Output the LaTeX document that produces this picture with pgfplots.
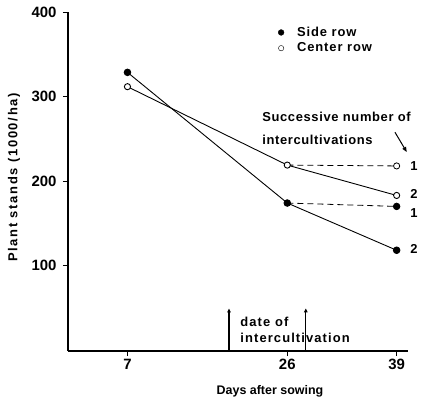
\documentclass[border=0pt]{standalone}
\usepackage{fontspec}
\setmainfont{Liberation Sans}
\newfontfamily\lsleg[LetterSpace=7]{Liberation Sans}
\newfontfamily\lsylab[LetterSpace=13]{Liberation Sans}
\newfontfamily\lsnote[LetterSpace=5]{Liberation Sans}
\newfontfamily\lsdate[LetterSpace=8.5]{Liberation Sans}
\usepackage{pgfplots}
\pgfplotsset{compat=1.18}
\usetikzlibrary{arrows.meta}

\begin{document}
\begin{tikzpicture}[font=\fontsize{13}{15}\selectfont\bfseries]
\begin{axis}[
  scale only axis, width=340bp, height=338.5bp,
  xmin=-0.07, xmax=40.35, ymin=-1.5, ymax=400,
  axis lines=left,
  axis line style={line width=1.6pt, -},
  xtick={7,26,39}, ytick={100,200,300,400},
  tick align=outside, major tick length=5bp,
  tick style={line width=1.2pt, black},
  /pgf/number format/assume math mode=true,
  ticklabel style={font=\fontsize{15}{17}\selectfont\bfseries},
  yticklabel style={xshift=-3bp},
  xlabel={Days after sowing},
  ylabel={\lsylab Plant stands (1000/ha)},
  xlabel style={at={(rel axis cs:0.594,0)}, anchor=center, yshift=-40bp,
    font=\fontsize{12.5}{14}\selectfont\bfseries},
  ylabel style={at={(rel axis cs:-0.159,0.5126)}, anchor=center},
  clip=false,
  legend style={at={(axis cs:24.9,383)}, anchor=north west, draw=none, fill=none,
    inner sep=0pt, row sep=5bp, column sep=13bp,
    nodes={inner sep=0pt, anchor=west},
    font=\fontsize{13}{15}\selectfont\bfseries\lsleg},
  legend cell align=left,
  legend image code/.code={\draw[#1] plot coordinates {(0bp,0bp)};},
]
% side row, then center row, both intercultivated once from day 26 on
\addplot[black, line width=0.8pt, dash pattern=on 6bp off 4bp, forget plot,
  mark=*, mark size=3.3pt, mark options={solid, fill=black}, mark indices={2}]
  coordinates {(26,174) (39,170)};
\addplot[black, line width=0.8pt, dash pattern=on 6bp off 4bp, forget plot,
  mark=*, mark size=3.1pt, mark options={solid, fill=white}, mark indices={2}]
  coordinates {(26,219) (39,218)};
% two intercultivations
\addplot[black, line width=0.9pt, mark=*, mark size=3.3pt,
  mark options={solid, fill=black}, forget plot]
  coordinates {(7,329) (26,174) (39,118)};
\addplot[black, line width=0.9pt, mark=*, mark size=3.1pt,
  mark options={solid, fill=white}, forget plot]
  coordinates {(7,312) (26,219) (39,183)};

\addlegendimage{only marks, mark=*, mark size=2.9pt, fill=black, black}
\addlegendentry{Side row}
\addlegendimage{only marks, mark=*, mark size=2.7pt, fill=white, draw=black}
\addlegendentry{Center row}

% intercultivation dates
\draw[line width=1.3pt, -{Triangle[length=4bp,width=3.5bp]}]
  (axis cs:19.07,-1.5) -- (axis cs:19.07,49);
\draw[line width=1.3pt, -{Triangle[length=4bp,width=3.5bp]}]
  (axis cs:28.2,-1.5) -- (axis cs:28.2,49);
\node[anchor=west, inner sep=0pt, font=\fontsize{13}{15}\selectfont\bfseries\lsdate]
  at (axis cs:20.4,33) {date of};
\node[anchor=west, inner sep=0pt, font=\fontsize{13}{15}\selectfont\bfseries\lsdate]
  at (axis cs:20.4,14) {intercultivation};

\node[anchor=west, inner sep=0pt, font=\fontsize{13}{15}\selectfont\bfseries\lsnote]
  at (axis cs:23.0,276) {Successive number of};
\node[anchor=west, inner sep=0pt, font=\fontsize{13}{15}\selectfont\bfseries\lsnote]
  at (axis cs:23.0,249) {intercultivations};
\draw[line width=1pt, -{Triangle[length=5bp,width=4bp]}]
  (axis cs:38.8,258) -- (axis cs:40.2,234.5);

\node[anchor=west, inner sep=0pt] at (axis cs:40.6,218) {1};
\node[anchor=west, inner sep=0pt] at (axis cs:40.6,185) {2};
\node[anchor=west, inner sep=0pt] at (axis cs:40.6,162) {1};
\node[anchor=west, inner sep=0pt] at (axis cs:40.6,119.5) {2};
\end{axis}
\pgfresetboundingbox
\useasboundingbox (-68bp,-52bp) rectangle (364bp,351bp);
\end{tikzpicture}
\end{document}
